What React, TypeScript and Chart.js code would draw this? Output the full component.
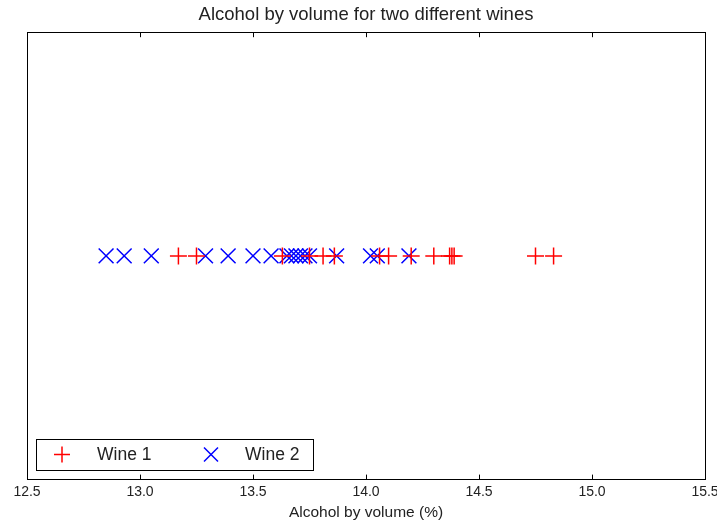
import React, { useEffect, useRef } from "react";
import { Chart, registerables } from "chart.js";

Chart.register(...registerables);

const titleText = "Alcohol by volume for two different wines";
const xLabel = "Alcohol by volume (%)";
const wine1Label = "Wine 1";
const wine2Label = "Wine 2";
const wine1 = [13.17, 13.25, 13.63, 13.75, 13.81, 13.86, 14.06, 14.1, 14.2, 14.3, 14.37, 14.38, 14.39, 14.75, 14.83];
const wine2 = [12.85, 12.93, 13.05, 13.29, 13.39, 13.5, 13.58, 13.65, 13.67, 13.69, 13.71, 13.73, 13.75, 13.87, 14.02, 14.05, 14.19];
const xMin = 12.5;
const xMax = 15.5;
const xStep = 0.5;

const FONT = "'Liberation Sans', Arial, sans-serif";

const framePlugin = {
  id: "frame",
  afterDraw(chart: any) {
    const { ctx, chartArea } = chart;
    const { left, right, top, bottom } = chartArea;
    const xs = chart.scales.x;
    ctx.save();
    ctx.strokeStyle = "#000";
    ctx.lineWidth = 1;
    ctx.strokeRect(Math.round(left) + 0.5, Math.round(top) + 0.5, Math.round(right - left), Math.round(bottom - top));
    for (let v = xMin; v <= xMax + 1e-9; v += xStep) {
      const px = Math.round(xs.getPixelForValue(v)) + 0.5;
      ctx.beginPath();
      ctx.moveTo(px, bottom);
      ctx.lineTo(px, bottom - 5);
      ctx.moveTo(px, top);
      ctx.lineTo(px, top + 5);
      ctx.stroke();
    }
    // legend
    const lx = Math.round(left) + 9, ly = Math.round(bottom) - 41, lw = 277, lh = 31;
    ctx.fillStyle = "#fff";
    ctx.fillRect(lx, ly, lw, lh);
    ctx.strokeRect(lx + 0.5, ly + 0.5, lw, lh);
    const cy = ly + lh / 2;
    ctx.lineWidth = 1.5;
    ctx.strokeStyle = "red";
    ctx.beginPath();
    ctx.moveTo(lx + 18, cy); ctx.lineTo(lx + 34, cy);
    ctx.moveTo(lx + 26, cy - 8); ctx.lineTo(lx + 26, cy + 8);
    ctx.stroke();
    ctx.strokeStyle = "blue";
    ctx.beginPath();
    const bx = lx + 175;
    ctx.moveTo(bx - 7, cy - 7); ctx.lineTo(bx + 7, cy + 7);
    ctx.moveTo(bx - 7, cy + 7); ctx.lineTo(bx + 7, cy - 7);
    ctx.stroke();
    ctx.fillStyle = "#222";
    ctx.font = `17.5px ${FONT}`;
    ctx.textBaseline = "middle";
    ctx.fillText(wine1Label, lx + 61, cy + 1);
    ctx.fillText(wine2Label, lx + 209, cy + 1);
    ctx.restore();
  },
};

export default function App() {
  const ref = useRef<HTMLCanvasElement>(null);
  useEffect(() => {
    document.body.style.margin = "0";
    const chart = new Chart(ref.current!, {
      type: "scatter",
      data: {
        datasets: [
          {
            label: wine1Label,
            data: wine1.map((v) => ({ x: v, y: 0 })),
            pointStyle: "cross",
            pointRadius: 8.5,
            borderColor: "red",
            backgroundColor: "red",
            borderWidth: 1.5,
          },
          {
            label: wine2Label,
            data: wine2.map((v) => ({ x: v, y: 0 })),
            pointStyle: "crossRot",
            pointRadius: 10.5,
            borderColor: "blue",
            backgroundColor: "blue",
            borderWidth: 1.5,
          },
        ],
      },
      options: {
        animation: false,
        responsive: false,
        layout: { padding: { left: 27, right: 12, top: 0, bottom: 1 } },
        plugins: {
          legend: { display: false },
          tooltip: { enabled: false },
          title: {
            display: true,
            text: titleText,
            color: "#222",
            font: { family: FONT, size: 18.5, weight: "normal" },
            padding: { top: 4, bottom: 6 },
          },
        },
        scales: {
          x: {
            type: "linear",
            min: xMin,
            max: xMax,
            grid: { display: false, drawTicks: false },
            border: { display: false },
            afterFit: (scale: any) => {
              scale.paddingLeft = 0;
              scale.paddingRight = 0;
            },
            ticks: {
              stepSize: xStep,
              color: "#222",
              font: { family: FONT, size: 14 },
              padding: 4,
              callback: (v: any) => Number(v).toFixed(1),
              maxRotation: 0,
            },
            title: {
              display: true,
              text: xLabel,
              color: "#222",
              font: { family: FONT, size: 15.5 },
              padding: { top: -1, bottom: 0 },
            },
          },
          y: {
            display: false,
            min: -1,
            max: 1,
          },
        },
      },
      plugins: [framePlugin],
    });
    return () => chart.destroy();
  }, []);
  return <canvas ref={ref} width={717} height={523} style={{ display: "block" }} />;
}
